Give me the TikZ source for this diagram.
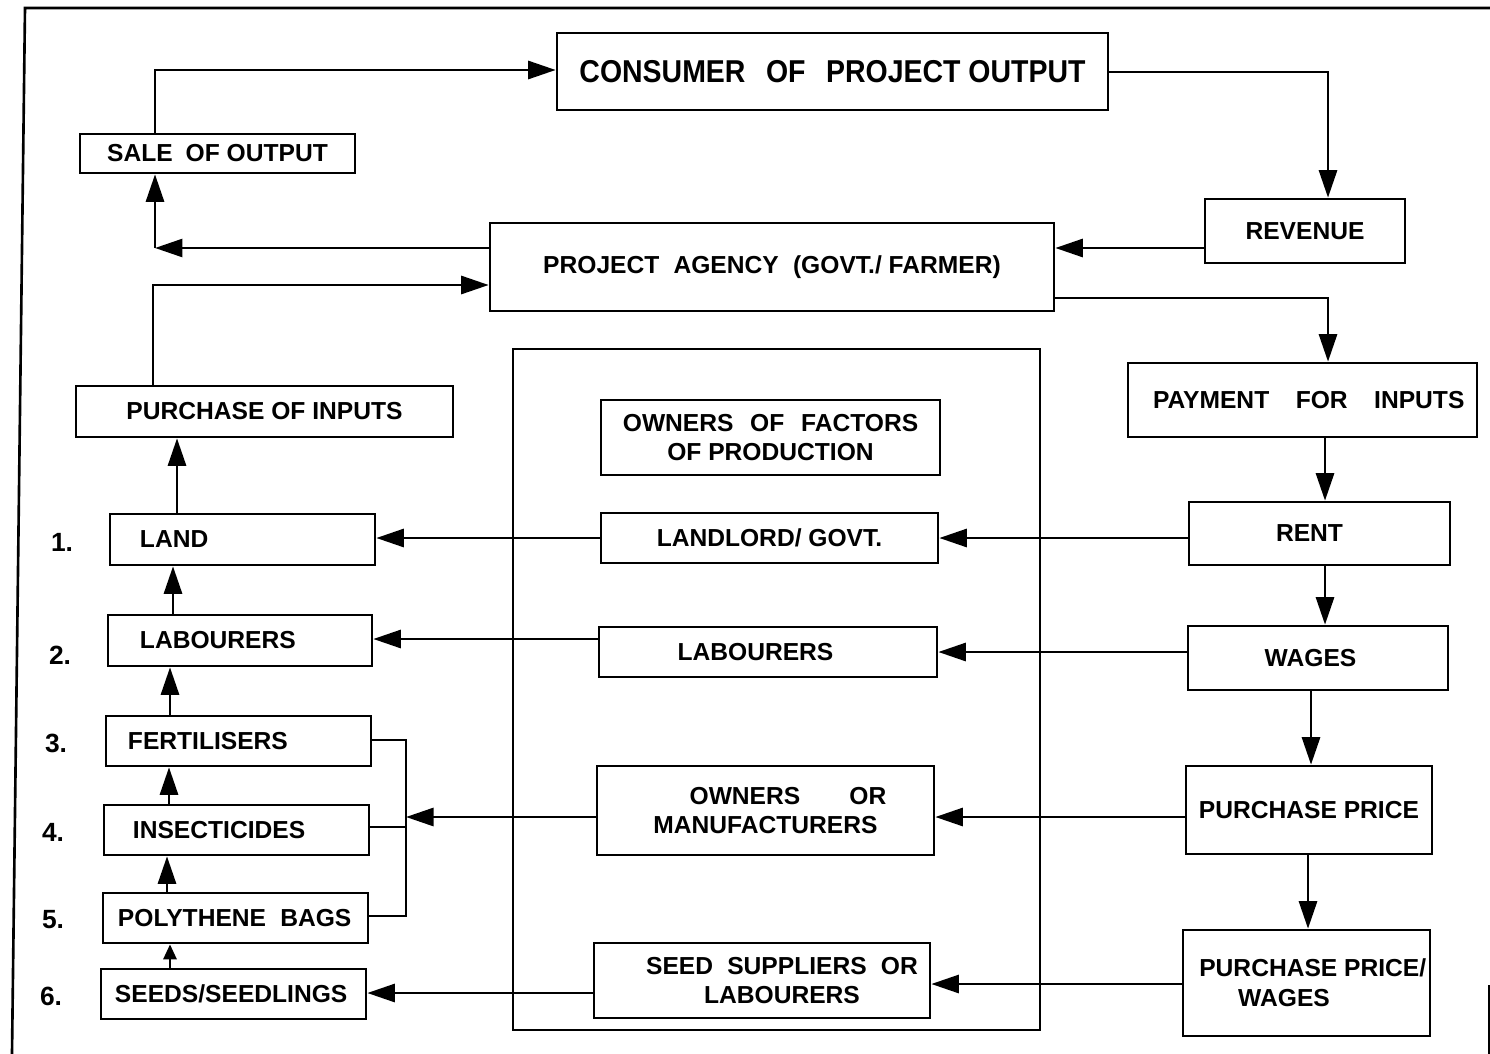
\documentclass[tikz,border=0pt]{standalone}
\usepackage{fontspec}
\setmainfont{Liberation Sans}
\newfontfamily\narrowfont[FakeStretch=0.9]{Liberation Sans}
\usetikzlibrary{arrows.meta}
\newcommand\mybox[7][]{%
  \pgfmathsetmacro\cx{(#3+#5)/2}%
  \pgfmathsetmacro\cy{(#4+#6)/2}%
  \pgfmathsetmacro\w{(#5-#3)*0.02}%
  \pgfmathsetmacro\h{(#6-#4)*0.02}%
  \node[box,minimum width=\w cm,minimum height=\h cm,#1] (#2) at (\cx,\cy) {#7};}
\newcommand\lft[2]{\makebox[\w cm][l]{\hspace{#1}#2}}
\begin{document}
\begin{tikzpicture}[x=0.02cm,y=-0.02cm,
  box/.style={draw,line width=1.5pt,inner sep=0pt,align=center,
    font=\bfseries\fontsize{14}{17}\selectfont},
  arr/.style={line width=1.6pt,-{Triangle[length=0.55cm,width=0.36cm]}},
  sarr/.style={line width=1.6pt,-{Triangle[length=0.3cm,width=0.26cm]}},
  plain/.style={line width=1.6pt},
  num/.style={font=\bfseries\fontsize{15}{18}\selectfont,inner sep=0pt}]
\useasboundingbox (0,0) rectangle (1490,1054);
% outer frame
\draw[line width=1.5pt] (1490,8) -- (25,8) -- (12,1054);
\draw[line width=1.5pt] (1489,985) -- (1489,1054);

% central frame
\mybox{ownersframe}{513}{349}{1040}{1030}{}

% top boxes
\mybox[font=\narrowfont\bfseries\fontsize{18}{21}\selectfont]{consumer}{557}{33}{1108}{110}{CONSUMER\hspace{0.4em} OF\hspace{0.4em} PROJECT OUTPUT}
\mybox{sale}{80}{134}{355}{173}{SALE\hspace{0.25em} OF OUTPUT}
\mybox{revenue}{1205}{199}{1405}{263}{REVENUE}
\mybox{agency}{490}{223}{1054}{311}{PROJECT\hspace{0.3em} AGENCY\hspace{0.3em} (GOVT./ FARMER)}
\mybox{purch}{76}{386}{453}{437}{PURCHASE OF INPUTS}
\mybox{payment}{1128}{363}{1477}{437}{\hspace*{0.25cm}PAYMENT\hspace{0.8em} FOR\hspace{0.8em} INPUTS}

% centre column
\mybox{factors}{601}{400}{940}{475}{OWNERS\hspace{0.4em} OF\hspace{0.4em} FACTORS\\OF PRODUCTION}
\mybox{landlord}{601}{513}{938}{563}{LANDLORD/ GOVT.}
\mybox{labc}{599}{627}{937}{677}{\hspace*{-0.5cm}LABOURERS}
\mybox{owners}{597}{766}{934}{855}{\hspace*{0.9cm}OWNERS\hspace{2em}OR\\MANUFACTURERS}
\mybox{seedsup}{594}{943}{930}{1018}{\hspace*{0.8cm}SEED\hspace{0.3em} SUPPLIERS\hspace{0.3em} OR\\\hspace*{0.8cm}LABOURERS}

% right column
\mybox{rent}{1189}{502}{1450}{565}{\hspace*{-0.4cm}RENT}
\mybox{wages}{1188}{626}{1448}{690}{\hspace*{-0.3cm}WAGES}
\mybox{pp}{1186}{766}{1432}{854}{PURCHASE PRICE}
\mybox{ppw}{1183}{930}{1430}{1036}{\hspace*{0.25cm}PURCHASE PRICE/\\\hspace*{-0.9cm}WAGES}

% left column
\mybox{land}{110}{514}{375}{565}{\lft{0.6cm}{LAND}}
\mybox{labl}{108}{615}{372}{666}{\lft{0.64cm}{LABOURERS}}
\mybox{fert}{106}{716}{371}{766}{\lft{0.44cm}{FERTILISERS}}
\mybox{insect}{104}{805}{369}{855}{\lft{0.58cm}{INSECTICIDES}}
\mybox{poly}{103}{893}{368}{943}{\lft{0.3cm}{POLYTHENE\hspace{0.3em} BAGS}}
\mybox{seeds}{101}{969}{366}{1019}{\lft{0.28cm}{SEEDS/SEEDLINGS}}

% numbers
\node[num] (n1) at (62,542) {1.};
\node[num] (n2) at (60,655) {2.};
\node[num] (n3) at (56,743) {3.};
\node[num] (n4) at (53,832) {4.};
\node[num] (n5) at (53,920) {5.};
\node[num] (n6) at (51,996) {6.};

% helper coordinates
\coordinate (k1) at (155,70);
\coordinate (k2) at (1328,72);
\coordinate (k3) at (0,248);
\coordinate (k4) at (155,248);
\coordinate (k5) at (153,285);
\coordinate (k6) at (1328,298);
\coordinate (k7) at (1325,0);
\coordinate (k8) at (1311,0);
\coordinate (k9) at (1308,0);
\coordinate (k10) at (0,538);
\coordinate (k11) at (0,652);
\coordinate (k12) at (0,639);
\coordinate (k13) at (0,817);
\coordinate (k14) at (406,817);
\coordinate (bt) at (406,740);
\coordinate (bm) at (406,827);
\coordinate (bb) at (406,916);
\coordinate (k16) at (0,984);
\coordinate (k17) at (0,993);
\coordinate (v1) at (177,0);
\coordinate (v2) at (173,0);
\coordinate (v3) at (170,0);
\coordinate (v4) at (169,0);
\coordinate (v5) at (167,0);
\coordinate (v6) at (170,0);

% top loop
\draw[arr] (sale.north -| k1) -- (k1) -- (consumer.west |- k1);
\draw[arr] (consumer.east |- k2) -- (k2) -- (revenue.north -| k2);
\draw[arr] (revenue.west |- k3) -- (agency.east |- k3);
\draw[arr] (agency.west |- k4) -- (k4);
\draw[arr] (k4) -- (sale.south -| k4);
\draw[arr] (purch.north -| k5) -- (k5) -- (agency.west |- k5);
\draw[arr] (agency.east |- k6) -- (k6) -- (payment.north -| k6);

% right column chain
\draw[arr] (payment.south -| k7) -- (rent.north -| k7);
\draw[arr] (rent.south -| k7) -- (wages.north -| k7);
\draw[arr] (wages.south -| k8) -- (pp.north -| k8);
\draw[arr] (pp.south -| k9) -- (ppw.north -| k9);

% horizontal flows
\draw[arr] (rent.west |- k10) -- (landlord.east |- k10);
\draw[arr] (landlord.west |- k10) -- (land.east |- k10);
\draw[arr] (wages.west |- k11) -- (labc.east |- k11);
\draw[arr] (labc.west |- k12) -- (labl.east |- k12);
\draw[arr] (pp.west |- k13) -- (owners.east |- k13);
\draw[arr] (owners.west |- k13) -- (k14);
\draw[plain] (fert.east |- bt) -- (bt) -- (bb) -- (poly.east |- bb);
\draw[plain] (insect.east |- bm) -- (bm);
\draw[arr] (ppw.west |- k16) -- (seedsup.east |- k16);
\draw[arr] (seedsup.west |- k17) -- (seeds.east |- k17);

% left column chain
\draw[arr] (land.north -| v1) -- (purch.south -| v1);
\draw[arr] (labl.north -| v2) -- (land.south -| v2);
\draw[arr] (fert.north -| v3) -- (labl.south -| v3);
\draw[arr] (insect.north -| v4) -- (fert.south -| v4);
\draw[arr] (poly.north -| v5) -- (insect.south -| v5);
\draw[sarr] (seeds.north -| v6) -- (poly.south -| v6);
\end{tikzpicture}
\end{document}
